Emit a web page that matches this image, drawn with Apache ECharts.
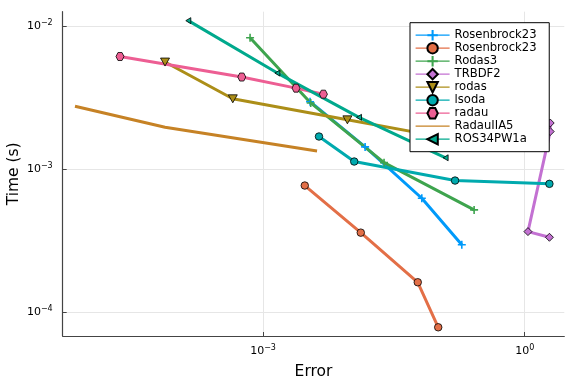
<!DOCTYPE html>
<html><head><meta charset="utf-8">
<script src="https://cdn.jsdelivr.net/npm/echarts@6/dist/echarts.min.js"></script>
<style>html,body{margin:0;padding:0;background:#fff}#c{width:576px;height:384px}</style>
</head><body><div id="c"></div>
<script>
// ---- data (error, time in seconds) ----
const names = ['Rosenbrock23', 'Rosenbrock23 ', 'Rodas3', 'TRBDF2', 'rodas', 'lsoda', 'radau', 'RadauIIA5', 'ROS34PW1a'];
const rosenbrock23aErr  = [3.46e-3, 1.48e-2, 6.61e-2, 0.190];
const rosenbrock23aTime = [2.96e-3, 1.43e-3, 6.26e-4, 2.96e-4];
const rosenbrock23bErr  = [3.01e-3, 1.32e-2, 5.94e-2, 0.102];
const rosenbrock23bTime = [7.68e-4, 3.60e-4, 1.62e-4, 7.85e-5];
const rodas3Err  = [7.10e-4, 3.52e-3, 2.44e-2, 0.263];
const rodas3Time = [8.28e-3, 2.90e-3, 1.11e-3, 5.19e-4];
const trbdf2Err  = [1.96, 1.96, 1.09, 1.92];
const trbdf2Time = [2.10e-3, 1.83e-3, 3.66e-4, 3.34e-4];
const rodasErr  = [7.52e-5, 4.50e-4, 9.27e-3, 0.122];
const rodasTime = [5.60e-3, 3.10e-3, 2.21e-3, 1.66e-3];
const lsodaErr  = [4.38e-3, 1.11e-2, 0.159, 1.92];
const lsodaTime = [1.69e-3, 1.13e-3, 8.32e-4, 7.89e-4];
const radauErr  = [2.29e-5, 5.70e-4, 2.39e-3, 4.92e-3];
const radauTime = [6.12e-3, 4.40e-3, 3.68e-3, 3.34e-3];
const radauIIA5Err  = [6.98e-6, 7.52e-5, 4.16e-3];
const radauIIA5Time = [2.75e-3, 1.96e-3, 1.34e-3];
const ros34Err  = [1.39e-4, 1.46e-3, 1.26e-2, 0.124];
const ros34Time = [1.09e-2, 4.69e-3, 2.30e-3, 1.20e-3];
// tick positions (log10 exponents)
const xTickExps = [-3, 0];
const yTickExps = [-4, -3, -2];

const errs  = [rosenbrock23aErr, rosenbrock23bErr, rodas3Err, trbdf2Err, rodasErr, lsodaErr, radauErr, radauIIA5Err, ros34Err];
const times = [rosenbrock23aTime, rosenbrock23bTime, rodas3Time, trbdf2Time, rodasTime, lsodaTime, radauTime, radauIIA5Time, ros34Time];

const colors = ['#009AFA', '#E36F47', '#3EA44E', '#C371D2', '#AC8E18', '#00AAAE', '#ED5E93', '#C68225', '#00A98D'];
const plusPath = 'path://M4,0h2v4h4v2h-4v4h-2v-4h-4v-2h4z';
const downTri = 'path://M0,0L10,0L5,9Z';
const leftTri = 'path://M0,5L9,0L9,10Z';
const hexPath = 'path://M2.5,0L7.5,0L10,4.33L7.5,8.66L2.5,8.66L0,4.33Z';
const symbols = [plusPath, 'circle', plusPath, 'diamond', downTri, 'circle', hexPath, 'circle', leftTri];
const symSizes = [8, 7.5, 8, 8, [9, 8], 7.5, 8, 0, [5, 6]];
const bordered = [false, true, false, true, true, true, true, false, true];

const minus = '\u2212';
function sci(v) {
  const e = Math.round(v);
  return '{b|10}{s|' + (e < 0 ? minus + Math.abs(e) : String(e)) + '}';
}
const rich = {
  b: { fontSize: 11, fontFamily: 'DejaVu Sans', color: '#000' },
  s: { fontSize: 8, fontFamily: 'DejaVu Sans', color: '#000', padding: [0, 0, 6, 0] }
};

const series = names.map((n, i) => ({
  name: n,
  type: 'line',
  data: errs[i].map((e, k) => [Math.log10(e), Math.log10(times[i][k])]),
  symbol: symbols[i],
  symbolSize: symSizes[i],
  showSymbol: i !== 7,
  lineStyle: { color: colors[i], width: 3 },
  itemStyle: i === 7 ? { color: colors[i], opacity: 0 } :
    { color: colors[i], borderColor: bordered[i] ? '#000' : colors[i], borderWidth: bordered[i] ? 0.8 : 0 },
  emphasis: { disabled: true },
  z: 2
}));

const chart = echarts.init(document.getElementById('c'), null, { renderer: 'canvas' });
chart.setOption({
  animation: false,
  backgroundColor: '#fff',
  grid: { left: 62.7, right: 11.7, top: 11.7, bottom: 48, containLabel: false, outerBoundsMode: 'none' },
  xAxis: {
    type: 'value', min: -5.297, max: 0.454,
    name: 'Error', nameLocation: 'middle', nameGap: 28, nameMoveOverlap: false,
    nameTextStyle: { fontSize: 15.5, fontFamily: 'DejaVu Sans', color: '#000' },
    axisLine: { show: true, onZero: false, lineStyle: { color: '#444', width: 1.2 } },
    axisTick: { show: true, inside: true, length: 4, customValues: xTickExps, lineStyle: { color: '#444' } },
    axisLabel: { customValues: xTickExps, formatter: sci, rich: rich, margin: 8 },
    splitLine: { show: true, lineStyle: { color: '#e6e6e6', width: 1 } }
  },
  yAxis: {
    type: 'value', min: -4.166, max: -1.9,
    name: 'Time (s)', nameLocation: 'middle', nameGap: 41, nameRotate: 90, nameMoveOverlap: false,
    nameTextStyle: { fontSize: 15.5, fontFamily: 'DejaVu Sans', color: '#000' },
    axisLine: { show: true, onZero: false, lineStyle: { color: '#444', width: 1.2 } },
    axisTick: { show: true, inside: true, length: 4, customValues: yTickExps, lineStyle: { color: '#444' } },
    axisLabel: { customValues: yTickExps, formatter: sci, rich: rich, margin: 10 },
    splitLine: { show: true, lineStyle: { color: '#e6e6e6', width: 1 } }
  },
  legend: {
    orient: 'vertical', left: 410, top: 22.7,
    padding: [6, 9, 6, 5],
    backgroundColor: '#fff', borderColor: '#000', borderWidth: 1, borderRadius: 0,
    itemWidth: 34, itemHeight: 13, itemGap: 0,
    selectedMode: false,
    lineStyle: { width: 1.2 },
    textStyle: { fontSize: 11.6, fontFamily: 'DejaVu Sans', color: '#000', lineHeight: 13 },
    data: names.map((n, i) => ({ name: n })),
    z: 10
  },
  series: series
});
</script>
</body></html>
